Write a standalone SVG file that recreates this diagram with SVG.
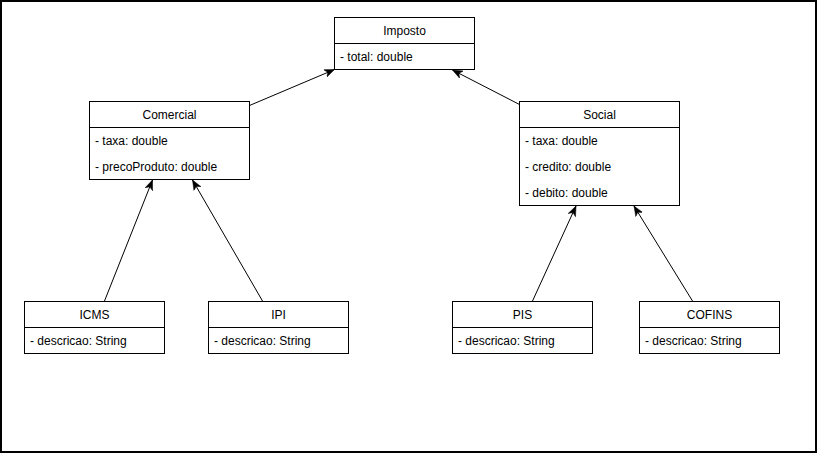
<svg xmlns="http://www.w3.org/2000/svg" width="819" height="454" viewBox="0 0 819 454">
  <style>
    .box { fill: #ffffff; stroke: #000000; stroke-width: 1; }
    .sep { stroke: #000000; stroke-width: 1; }
    .title { font-family: "Liberation Sans", Arial, sans-serif; font-size: 12px; fill: #000000; text-anchor: middle; }
    .attr { font-family: "Liberation Sans", Arial, sans-serif; font-size: 12px; fill: #000000; }
    .edge { fill: none; stroke: #000000; stroke-width: 1; marker-end: url(#classic); }
  </style>
  <defs>
    <marker id="classic" markerUnits="userSpaceOnUse" markerWidth="12" markerHeight="10" refX="10" refY="4.5" orient="auto" viewBox="0 0 12 10">
      <path d="M10,4.5 L0,0.5 L2.8,4.5 L0,8.5 Z" fill="#000000" stroke="#000000" stroke-width="0.5"/>
    </marker>
  </defs>

  <rect x="0" y="0" width="819" height="454" fill="#ffffff"/>
  <rect x="1" y="1" width="815" height="451" fill="none" stroke="#000000" stroke-width="2"/>

  <g id="connectors">
    <line class="edge" x1="249.5" y1="105.5" x2="334.5" y2="69.5"/>
    <line class="edge" x1="519.5" y1="104.5" x2="452.5" y2="70"/>
    <line class="edge" x1="104.5" y1="301" x2="152.5" y2="180"/>
    <line class="edge" x1="262.5" y1="301" x2="192.5" y2="180"/>
    <line class="edge" x1="532.5" y1="301" x2="576" y2="206"/>
    <line class="edge" x1="692.5" y1="301" x2="634" y2="206"/>
  </g>

  <g id="imposto">
    <rect class="box" x="334.5" y="17.5" width="140" height="52"/>
    <line class="sep" x1="334.5" y1="43.5" x2="474.5" y2="43.5"/>
    <text class="title" x="404.5" y="34.5">Imposto</text>
    <text class="attr" x="340" y="60.5">- total: double</text>
  </g>

  <g id="comercial">
    <rect class="box" x="89.5" y="101.5" width="160" height="78"/>
    <line class="sep" x1="89.5" y1="127.5" x2="249.5" y2="127.5"/>
    <text class="title" x="169.5" y="118.5">Comercial</text>
    <text class="attr" x="95" y="144.5">- taxa: double</text>
    <text class="attr" x="95" y="170.5">- precoProduto: double</text>
  </g>

  <g id="social">
    <rect class="box" x="519.5" y="101.5" width="160" height="104"/>
    <line class="sep" x1="519.5" y1="127.5" x2="679.5" y2="127.5"/>
    <text class="title" x="599.5" y="118.5">Social</text>
    <text class="attr" x="525" y="144.5">- taxa: double</text>
    <text class="attr" x="525" y="170.5">- credito: double</text>
    <text class="attr" x="525" y="196.5">- debito: double</text>
  </g>

  <g id="icms">
    <rect class="box" x="24.5" y="301.5" width="140" height="52"/>
    <line class="sep" x1="24.5" y1="327.5" x2="164.5" y2="327.5"/>
    <text class="title" x="94.5" y="318.5">ICMS</text>
    <text class="attr" x="30" y="344.5">- descricao: String</text>
  </g>

  <g id="ipi">
    <rect class="box" x="208.5" y="301.5" width="140" height="52"/>
    <line class="sep" x1="208.5" y1="327.5" x2="348.5" y2="327.5"/>
    <text class="title" x="278.5" y="318.5">IPI</text>
    <text class="attr" x="214" y="344.5">- descricao: String</text>
  </g>

  <g id="pis">
    <rect class="box" x="452.5" y="301.5" width="140" height="52"/>
    <line class="sep" x1="452.5" y1="327.5" x2="592.5" y2="327.5"/>
    <text class="title" x="522.5" y="318.5">PIS</text>
    <text class="attr" x="458" y="344.5">- descricao: String</text>
  </g>

  <g id="cofins">
    <rect class="box" x="639.5" y="301.5" width="140" height="52"/>
    <line class="sep" x1="639.5" y1="327.5" x2="779.5" y2="327.5"/>
    <text class="title" x="709.5" y="318.5">COFINS</text>
    <text class="attr" x="645" y="344.5">- descricao: String</text>
  </g>
</svg>
